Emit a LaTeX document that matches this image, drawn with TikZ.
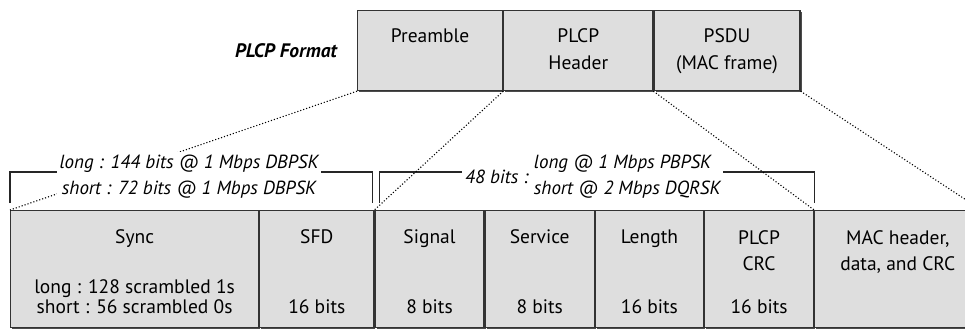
\documentclass[tikz,border=0pt]{standalone}
\usepackage{fontspec}
\setmainfont{PT Sans}
\usetikzlibrary{positioning,shadows}

\begin{document}
\begin{tikzpicture}[x=1pt,y=-1pt,
  field/.style={draw=black!80,line width=1.2pt,fill=black!13,inner sep=0pt,
    anchor=north west,minimum width=#1,
    drop shadow={shadow xshift=1.5pt,shadow yshift=-1.5pt,fill=black!70,opacity=1}},
  topfield/.style={field=#1,minimum height=80pt},
  lowfield/.style={field=#1,minimum height=117pt},
  txt/.style={font=\fontsize{19.5}{26}\selectfont,inner sep=0pt,anchor=base,align=center},
  subtxt/.style={txt,font=\fontsize{19.5}{20}\selectfont},
  note/.style={font=\fontsize{19}{26}\selectfont\itshape,fill=white,inner sep=3pt,align=center},
  dots/.style={line width=1.1pt,dash pattern=on 1.1pt off 2pt},
  brk/.style={line width=1.3pt,black!85}]
\useasboundingbox (0,0) rectangle (965,329);
\clip (0,0) rectangle (965,329);

% PLCP frame
\node[topfield=145pt] (pre) at (357,10) {};
\node[topfield=149pt] (hdr) at (pre.north east) {};
\node[topfield=146pt] (psdu) at (hdr.north east) {};
% (base of a two-line label is its last line)
\node[txt] (pret) at ([yshift=-33pt]pre.north) {Preamble};
\node[txt] (hdrt) at ([yshift=-59pt]hdr.north) {PLCP\\Header};
\node[txt] (psdut) at ([yshift=-59pt]psdu.north) {PSDU\\(MAC frame)};
\node[font=\fontsize{19.5}{22}\selectfont\bfseries\itshape,inner sep=0pt,left=20pt of pre] (fmt) {PLCP Format};

% fields
\node[lowfield=248pt] (sync) at (10,210) {};
\node[lowfield=114pt] (sfd) at (sync.north east) {};
\node[lowfield=109pt] (sig) at (sfd.north east) {};
\node[lowfield=109pt] (svc) at (sig.north east) {};
\node[lowfield=108pt] (len) at (svc.north east) {};
\node[lowfield=109pt] (crc) at (len.north east) {};
\node[lowfield=166pt] (mac) at (crc.north east) {};

\node[txt] (synct) at ([yshift=-33pt]sync.north) {Sync};
\node[subtxt] (syncb) at ([yshift=-103pt]sync.north) {long : 128 scrambled 1s\\short : 56 scrambled 0s};
\node[txt] (sfdt) at ([yshift=-33pt]sfd.north) {SFD};
\node[txt] (sfdb) at ([yshift=-103pt]sfd.north) {16 bits};
\node[txt] (sigt) at ([yshift=-33pt]sig.north) {Signal};
\node[txt] (sigb) at ([yshift=-103pt]sig.north) {8 bits};
\node[txt] (svct) at ([yshift=-33pt]svc.north) {Service};
\node[txt] (svcb) at ([yshift=-103pt]svc.north) {8 bits};
\node[txt] (lent) at ([yshift=-33pt]len.north) {Length};
\node[txt] (lenb) at ([yshift=-103pt]len.north) {16 bits};
\node[txt] (crct) at ([yshift=-60pt]crc.north) {PLCP\\CRC};
\node[txt] (crcb) at ([yshift=-103pt]crc.north) {16 bits};
\node[txt] (mact) at ([yshift=-60pt]mac.north) {MAC header,\\data, and CRC};

% brackets
\draw[brk] ([yshift=7pt]sync.north west) |- ([xshift=-2pt,yshift=38pt]sfd.north east)
  -- ([xshift=-2pt,yshift=7pt]sfd.north east);
\draw[brk] ([xshift=5pt,yshift=7pt]sig.north west) |- ([yshift=38pt]crc.north east)
  -- ([yshift=7pt]crc.north east);

% expansion lines
\draw[dots] (pre.south west) -- (sync.north west);
\draw[dots] (pre.south east) -- (sig.north west);
\draw[dots] (hdr.south east) -- (crc.north east);
\draw[dots] (psdu.south east) -- (mac.north east);

% bracket labels
\node[note] (prenote) at (189,177) {long : 144 bits @ 1 Mbps DBPSK\\short : 72 bits @ 1 Mbps DBPSK};
\node[note,anchor=west] (hdrlen) at (462,177) {48 bits :};
\node[note,align=left,anchor=west,inner sep=2pt] (hdrrate) at (hdrlen.east) {long @ 1 Mbps PBPSK\\short @ 2 Mbps DQRSK};
\end{tikzpicture}
\end{document}
